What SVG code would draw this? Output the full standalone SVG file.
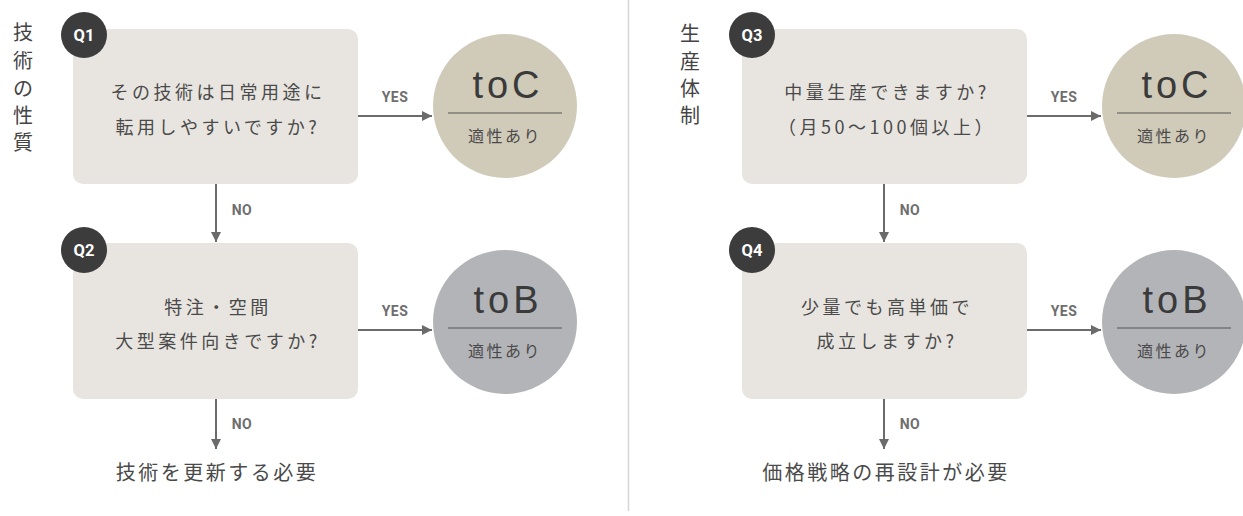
<svg xmlns="http://www.w3.org/2000/svg" width="1243" height="516" viewBox="0 0 1243 516">
<style>
.bg{fill:#ffffff}
.box{fill:#e8e5e0}
.badge{fill:#3c3c3c}
.qn{font-family:Roboto,"Liberation Sans",Arial,sans-serif;font-weight:bold;font-size:16.5px;fill:#ffffff;text-anchor:middle}
.qt{font-family:"Noto Sans CJK JP",sans-serif;font-size:18px;fill:#4a4a4a;text-anchor:middle;letter-spacing:3.5px}
.title{font-family:"Noto Sans CJK JP",sans-serif;font-size:20px;fill:#444;text-anchor:middle}
.lbl{font-family:Roboto,"Liberation Sans",Arial,sans-serif;font-weight:bold;font-size:14px;fill:#6e6e6e;text-anchor:middle;letter-spacing:0.5px}
.conn{stroke:#6b6b6b;stroke-width:2;fill:none}
.toc{fill:#d0cab9}
.tob{fill:#b3b4b8}
.big{font-family:"Liberation Sans",Arial,sans-serif;font-size:38px;fill:#3a3a3a;text-anchor:middle;letter-spacing:4px}
.sep{stroke:#555;stroke-width:1}
.fit{font-family:"Noto Sans CJK JP",sans-serif;font-size:16px;fill:#4a4a4a;text-anchor:middle;letter-spacing:2.5px}
.res{font-family:"Noto Sans CJK JP",sans-serif;font-size:20px;fill:#4a4a4a;text-anchor:middle;letter-spacing:2.5px}
</style>
<defs>
<marker id="ah" viewBox="0 0 10 10" refX="10" refY="5" markerWidth="10" markerHeight="10" markerUnits="userSpaceOnUse" orient="auto">
<path d="M0,0 L10,5 L0,10 z" fill="#6b6b6b"/>
</marker>
</defs>
<rect class="bg" x="0" y="0" width="1243" height="516"/>
<line x1="628.5" y1="0" x2="628.5" y2="511" stroke="#d6d6d6" stroke-width="1.5"/>

<g id="title-left">
<text class="title" x="23" y="40">技</text>
<text class="title" x="23" y="68">術</text>
<text class="title" x="23" y="96">の</text>
<text class="title" x="23" y="123">性</text>
<text class="title" x="23" y="150">質</text>
</g>
<g id="title-right">
<text class="title" x="690" y="41">生</text>
<text class="title" x="690" y="69">産</text>
<text class="title" x="690" y="96">体</text>
<text class="title" x="690" y="123">制</text>
</g>

<g id="connectors">
<line class="conn" x1="358" y1="116" x2="432" y2="116" marker-end="url(#ah)"/>
<line class="conn" x1="358" y1="330" x2="432" y2="330" marker-end="url(#ah)"/>
<line class="conn" x1="216" y1="184" x2="216" y2="242" marker-end="url(#ah)"/>
<line class="conn" x1="216" y1="399" x2="216" y2="449" marker-end="url(#ah)"/>
<line class="conn" x1="1027" y1="116" x2="1101" y2="116" marker-end="url(#ah)"/>
<line class="conn" x1="1027" y1="330" x2="1101" y2="330" marker-end="url(#ah)"/>
<line class="conn" x1="884" y1="184" x2="884" y2="242" marker-end="url(#ah)"/>
<line class="conn" x1="884" y1="399" x2="884" y2="449" marker-end="url(#ah)"/>
<text class="lbl" x="395" y="102">YES</text>
<text class="lbl" x="395" y="316">YES</text>
<text class="lbl" x="242" y="215">NO</text>
<text class="lbl" x="242" y="429">NO</text>
<text class="lbl" x="1064" y="102">YES</text>
<text class="lbl" x="1064" y="316">YES</text>
<text class="lbl" x="910" y="215">NO</text>
<text class="lbl" x="910" y="429">NO</text>
</g>

<g id="q1">
<rect class="box" x="73" y="29" width="285" height="155" rx="10"/>
<circle class="badge" cx="84" cy="35" r="23"/>
<text class="qn" x="84" y="41">Q1</text>
<text class="qt" x="218" y="99">その技術は日常用途に</text>
<text class="qt" x="218" y="134">転用しやすいですか?</text>
</g>
<g id="q2">
<rect class="box" x="73" y="243" width="285" height="156" rx="10"/>
<circle class="badge" cx="84" cy="250" r="23"/>
<text class="qn" x="84" y="256">Q2</text>
<text class="qt" x="218" y="314">特注・空間</text>
<text class="qt" x="218" y="348">大型案件向きですか?</text>
</g>
<g id="q3">
<rect class="box" x="742" y="29" width="285" height="155" rx="10"/>
<circle class="badge" cx="752" cy="35" r="23"/>
<text class="qn" x="752" y="41">Q3</text>
<text class="qt" x="887" y="99">中量生産できますか?</text>
<text class="qt" x="887" y="134">（月50〜100個以上）</text>
</g>
<g id="q4">
<rect class="box" x="742" y="243" width="285" height="156" rx="10"/>
<circle class="badge" cx="752" cy="250" r="23"/>
<text class="qn" x="752" y="256">Q4</text>
<text class="qt" x="887" y="314">少量でも高単価で</text>
<text class="qt" x="887" y="348">成立しますか?</text>
</g>

<g id="toc-left">
<circle class="toc" cx="505" cy="106" r="72"/>
<text class="big" x="508" y="98">toC</text>
<line class="sep" x1="448" y1="113" x2="562" y2="113"/>
<text class="fit" x="505" y="142">適性あり</text>
</g>
<g id="tob-left">
<circle class="tob" cx="505" cy="322" r="72"/>
<text class="big" x="508" y="313">toB</text>
<line class="sep" x1="448" y1="328" x2="562" y2="328"/>
<text class="fit" x="505" y="357">適性あり</text>
</g>
<g id="toc-right">
<circle class="toc" cx="1174" cy="106" r="72"/>
<text class="big" x="1177" y="98">toC</text>
<line class="sep" x1="1117" y1="113" x2="1231" y2="113"/>
<text class="fit" x="1174" y="142">適性あり</text>
</g>
<g id="tob-right">
<circle class="tob" cx="1174" cy="322" r="72"/>
<text class="big" x="1177" y="313">toB</text>
<line class="sep" x1="1117" y1="328" x2="1231" y2="328"/>
<text class="fit" x="1174" y="357">適性あり</text>
</g>

<g id="result-left">
<text class="res" x="217" y="480">技術を更新する必要</text>
</g>
<g id="result-right">
<text class="res" x="886" y="480">価格戦略の再設計が必要</text>
</g>
</svg>
